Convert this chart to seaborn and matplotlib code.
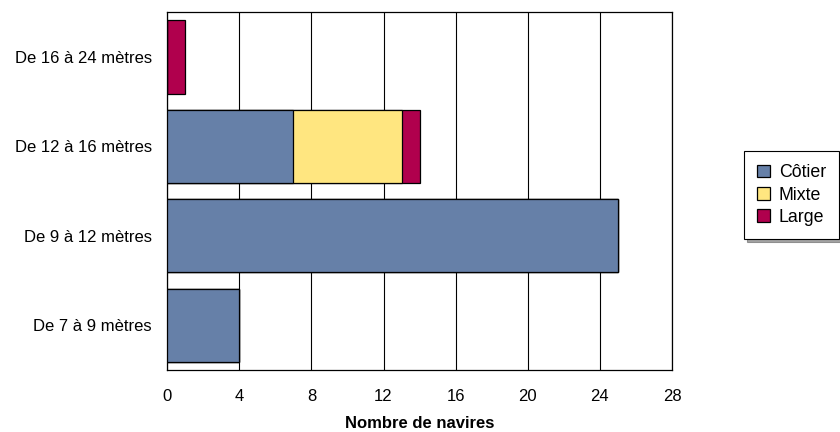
import matplotlib
matplotlib.use("Agg")
import matplotlib.pyplot as plt
import numpy as np
import pandas as pd
import seaborn as sns

categories = ["De 16 à 24 mètres", "De 12 à 16 mètres", "De 9 à 12 mètres", "De 7 à 9 mètres"]
cotier = [0, 7, 25, 4]
mixte = [0, 6, 0, 0]
large = [1, 1, 0, 0]
series_names = ["Côtier", "Mixte", "Large"]
colors = {"Côtier": "#6680A8", "Mixte": "#FFE680", "Large": "#B0004D"}
x_ticks = [0, 4, 8, 12, 16, 20, 24, 28]

sns.set_theme(style="white")
plt.rcParams["font.family"] = ["Liberation Sans", "DejaVu Sans"]
plt.rcParams["text.color"] = "black"
plt.rcParams["axes.labelcolor"] = "black"

df = pd.DataFrame({"cat": categories, "Côtier": cotier, "Mixte": mixte, "Large": large})
# cumulative totals, drawn from the widest down so the stack shows
df["c1"] = df["Côtier"]
df["c2"] = df["Côtier"] + df["Mixte"]
df["c3"] = df["c2"] + df["Large"]

fig, ax = plt.subplots(figsize=(8.4, 4.32), dpi=100)
fig.subplots_adjust(left=0.199, right=0.8, top=0.972, bottom=0.1435)

for col, name in [("c3", "Large"), ("c2", "Mixte"), ("c1", "Côtier")]:
    sns.barplot(data=df, x=col, y="cat", order=categories, color=colors[name],
                saturation=1, width=0.82, edgecolor="black", linewidth=0.9,
                label=name, ax=ax, zorder=3)

ax.set_xlim(0, 28)
ax.set_xticks(x_ticks)
ax.grid(axis="x", color="black", linewidth=0.8, zorder=0)
ax.set_axisbelow(True)
for s in ax.spines.values():
    s.set_color("black")
    s.set_linewidth(0.9)
ax.tick_params(axis="x", length=0, labelsize=12, colors="black", pad=14)
ax.tick_params(axis="y", length=0, labelsize=12, colors="black", pad=11)
ax.set_ylabel("")
ax.set_xlabel("Nombre de navires", fontsize=12, fontweight="bold",
              color="black", labelpad=8)

handles, labels = ax.get_legend_handles_labels()
hmap = dict(zip(labels, handles))
leg = ax.legend([hmap[n] for n in series_names], series_names,
                loc="center left", bbox_to_anchor=(0.8857, 0.5486),
                bbox_transform=fig.transFigure, borderaxespad=0,
                frameon=True, fancybox=False, shadow=True, fontsize=12.8,
                handlelength=0.7, handleheight=0.7, handletextpad=0.5,
                borderpad=0.75, labelspacing=0.3)
leg.get_frame().set_edgecolor("black")
leg.get_frame().set_linewidth(0.8)

fig.savefig("out.png", dpi=100)
